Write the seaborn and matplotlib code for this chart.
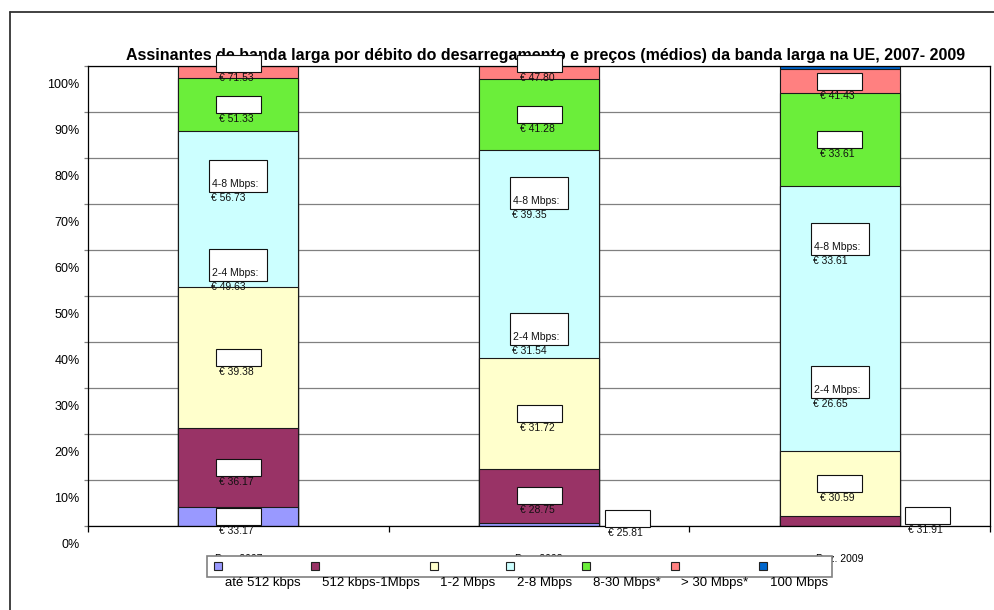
import numpy as np
import matplotlib
matplotlib.use('Agg')
import matplotlib.pyplot as plt
import matplotlib.transforms as mtransforms
from matplotlib.patches import Rectangle
from matplotlib.lines import Line2D
import seaborn as sns

# dados (quota de assinantes, % por débito)
periods = ['Dez. 2007', 'Dez. 2008', 'Dez. 2009']
speed_bands = ['até 512 kbps', '512 kbps-1Mbps', '1-2 Mbps', '2-8 Mbps',
               '8-30 Mbps*', '> 30 Mbps*', '100 Mbps']
share_512k = [4.1, 0.7, 0.0]
share_512k_1m = [17.1, 11.7, 2.2]
share_1_2 = [30.7, 24.1, 14.1]
share_2_8 = [34.0, 45.3, 57.6]
share_8_30 = [11.6, 15.3, 20.2]
share_30 = [2.5, 2.9, 5.2]
share_100 = [0.0, 0.0, 0.7]

# preços médios (EUR)
price_512k = [33.17, 25.81, None]
price_512k_1m = [36.17, 28.75, 31.91]
price_1_2 = [39.38, 31.72, 30.59]
price_2_4 = [49.63, 31.54, 26.65]
price_4_8 = [56.73, 39.35, 33.61]
price_8_30 = [51.33, 41.28, 33.61]
price_30 = [71.53, 47.80, 41.43]

colors = ['#9999FF', '#993366', '#FFFFCC', '#CCFFFF', '#6BEE3A', '#FF8080', '#0066CC']
title = ('Assinantes de banda larga por débito do desarregamento e preços (médios) '
         'da banda larga na UE, 2007- 2009')

sns.set_theme(style='ticks')
plt.rcParams['font.family'] = ['Liberation Sans', 'DejaVu Sans']

W, H = 995, 610
fig = plt.figure(figsize=(W / 100, H / 100), dpi=100)
ax = fig.add_axes([88 / W, 1 - 526 / H, 902 / W, 460 / H])

shares = np.array([share_512k, share_512k_1m, share_1_2, share_2_8,
                   share_8_30, share_30, share_100])
tops = np.cumsum(shares, axis=0)
bottoms = tops - shares

# barras empilhadas: desenhar do topo para baixo
for band, color, top in reversed(list(zip(speed_bands, colors, tops))):
    sns.barplot(x=periods, y=top, color=color, saturation=1, width=0.4,
                edgecolor='#1a1a1a', linewidth=0.8, errorbar=None, ax=ax)

ax.set_xlim(-0.5, 2.5)
ax.set_ylim(0, 100)
ax.set_xlabel('')
ax.set_ylabel('')
ax.set_yticks(range(0, 101, 10), [f'{v}%' for v in range(0, 101, 10)])
ax.yaxis.grid(True, color='#808080', lw=0.9)
ax.set_axisbelow(True)
for sp in ax.spines.values():
    sp.set_color('black')
    sp.set_linewidth(0.9)
ax.tick_params(axis='y', left=True, length=3, width=0.9, color='#808080', pad=3,
               labelsize=9, labelcolor='black')
ax.tick_params(axis='x', which='major', bottom=True, length=0, pad=20, labelsize=7.5,
               labelcolor='black')
ax.set_xticks([-0.5, 0.5, 1.5, 2.5], minor=True)
ax.tick_params(axis='x', which='minor', bottom=True, length=4, width=0.9,
               color='black', direction='out')

# rótulos do eixo y deslocados para baixo (como no original)
shift = mtransforms.ScaledTranslation(0, -17 / 100, fig.dpi_scale_trans)
for lab in ax.get_yticklabels():
    lab.set_transform(lab.get_transform() + shift)

ax.set_title(title, fontsize=11.5, fontweight='bold', pad=4, color='black')
ax.title.set_x((546 - 88) / 902)

# rótulos de preço
dx = 3 / 902
dy = 100 / 460


def small_box(xc, yc, price):
    w, h = 45 * dx, 17 * dy
    ax.add_patch(Rectangle((xc - w / 2, yc - h / 2), w, h, facecolor='white',
                           edgecolor='#111111', lw=0.8, zorder=6, clip_on=False))
    ax.text(xc - 2 * dx, yc - h / 2 - 6 * dy, f'€ {price:.2f}', ha='center', va='center',
            fontsize=7.5, color='#111111', zorder=7, clip_on=False)


def wide_box(xc, yc, band_text, price):
    w, h = 58 * dx, 32 * dy
    left, bottom = xc - w / 2, yc - h / 2
    ax.add_patch(Rectangle((left, bottom), w, h, facecolor='white',
                           edgecolor='#111111', lw=0.8, zorder=6, clip_on=False))
    ax.text(left + 3 * dx, bottom + 8 * dy, band_text, ha='left', va='center',
            fontsize=7.5, color='#111111', zorder=7, clip_on=False)
    ax.text(left + 2 * dx, bottom - 6 * dy, f'€ {price:.2f}', ha='left', va='center',
            fontsize=7.5, color='#111111', zorder=7, clip_on=False)


band_prices = [price_512k, price_512k_1m, price_1_2, None, price_8_30, price_30, None]
frac_2_4 = [0.14, 0.14, 0.26]
frac_4_8 = [0.71, 0.79, 0.80]

for j, prices in enumerate(band_prices):
    for i in range(len(periods)):
        if j == 3:
            seg_lo, seg_h = bottoms[j][i], shares[j][i]
            wide_box(i, seg_lo + frac_2_4[i] * seg_h, '2-4 Mbps:', price_2_4[i])
            wide_box(i, seg_lo + frac_4_8[i] * seg_h, '4-8 Mbps:', price_4_8[i])
            continue
        if prices is None or prices[i] is None:
            continue
        mid = bottoms[j][i] + shares[j][i] / 2
        if shares[j][i] < 2.4:
            small_box(i + 0.293, mid + 1.2, prices[i])
        elif tops[j][i] >= 99.99:
            # rótulo do segmento de topo sobe por cima da borda
            small_box(i, tops[j][i] + 0.5, prices[i])
        else:
            small_box(i, mid, prices[i])

# moldura exterior
fig.add_artist(Line2D([10 / W, 10 / W], [0, 1 - 12 / H], color='#333333', lw=1.3))
fig.add_artist(Line2D([10 / W, 1], [1 - 12 / H, 1 - 12 / H], color='#333333', lw=1.3))

# legenda (marcadores na caixa, textos por baixo)
fig.canvas.draw()
renderer = fig.canvas.get_renderer()
x = 214
last_right = x
for band, color in zip(speed_bands, colors):
    fig.add_artist(Rectangle((x / W, 1 - 570 / H), 8 / W, 8 / H, transform=fig.transFigure,
                             facecolor=color, edgecolor='#222222', lw=0.8, zorder=5))
    t = fig.text((x + 11) / W, 1 - 583 / H, band, ha='left', va='center', fontsize=9.5,
                 color='black', zorder=6)
    width = t.get_window_extent(renderer).width
    last_right = x + 11 + width
    x = last_right + 10
fig.add_artist(Rectangle((207 / W, 1 - 577 / H), (last_right + 4 - 207) / W, 21 / H,
                         transform=fig.transFigure, facecolor='white', edgecolor='#808080',
                         lw=1.2, zorder=4))

fig.savefig('out.png', dpi=100)
